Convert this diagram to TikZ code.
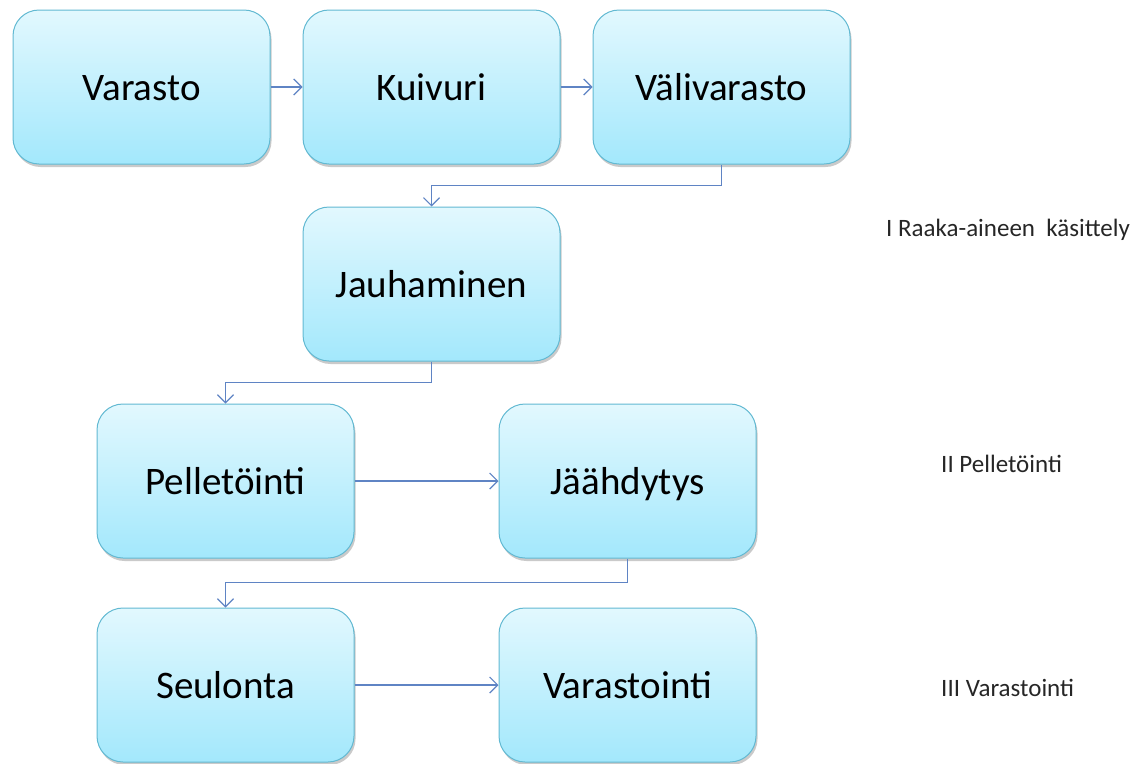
\documentclass[tikz,border=0pt]{standalone}
\usepackage{fontspec}
\setmainfont{Carlito}
\usetikzlibrary{shadows,arrows.meta}
\definecolor{boxtop}{HTML}{E2F8FE}
\definecolor{boxbot}{HTML}{A3E8FC}
\definecolor{boxline}{HTML}{62B9D2}
\definecolor{conn}{HTML}{5F84C4}
\tikzset{
  stepbox/.style={draw=boxline, line width=1pt, rounded corners=26pt,
    top color=boxtop, bottom color=boxbot, minimum width=257pt, minimum height=154pt,
    inner sep=0pt, text height=34pt, text depth=8pt, font=\fontsize{39}{44}\selectfont,
    drop shadow={shadow xshift=1.5pt, shadow yshift=-3pt, opacity=0.35, fill=black!60}},
  link/.style={draw=conn, line width=1.2pt, -{Straight Barb[length=8pt,width=16pt,line width=1.2pt]}},
  phase/.style={font=\fontsize{25}{30}\selectfont, text=black!85, anchor=west, inner sep=0pt}
}
\begin{document}
\begin{tikzpicture}[x=1pt,y=-1pt]
\useasboundingbox (0,0) rectangle (1147,763);
\node[stepbox] (varasto) at (141.5,87) {Varasto};
\node[stepbox] (kuivuri) at (431.5,87) {Kuivuri};
\node[stepbox] (vali) at (721.5,87) {Välivarasto};
\node[stepbox] (jauh) at (431.5,284) {Jauhaminen};
\node[stepbox] (pell) at (225.5,481) {Pelletöinti};
\node[stepbox] (jaah) at (627.5,481) {Jäähdytys};
\node[stepbox] (seul) at (225.5,685) {Seulonta};
\node[stepbox] (vars) at (627.5,685) {Varastointi};

\draw[link] (varasto) -- (kuivuri);
\draw[link] (kuivuri) -- (vali);
\draw[link] (vali.south) -- ++(0,21) -| (jauh.north);
\draw[link] (jauh.south) -- ++(0,21) -| (pell.north);
\draw[link] (pell) -- (jaah);
\draw[link] (jaah.south) -- ++(0,24) -| (seul.north);
\draw[link] (seul) -- (vars);

\node[phase] (p1) at (886,230) {I Raaka-aineen\ \ käsittely};
\node[phase] (p2) at (941,464) {II Pelletöinti};
\node[phase] (p3) at (941,688) {III Varastointi};
\end{tikzpicture}
\end{document}
